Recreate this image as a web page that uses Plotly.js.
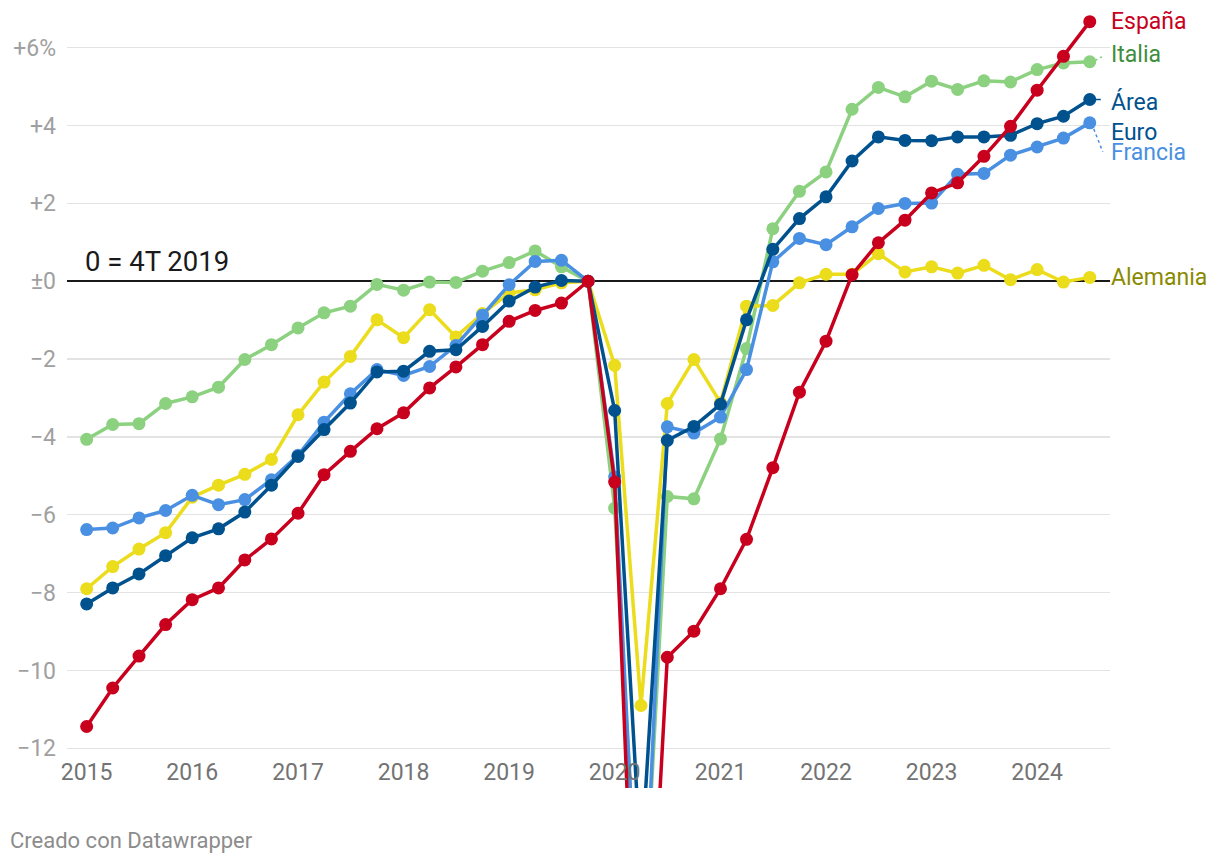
<!DOCTYPE html>
<html>
<head>
<meta charset="utf-8">
<script src="https://cdn.plot.ly/plotly-3.0.1.min.js"></script>
<style>html,body{margin:0;padding:0;background:#fff;}#chart{width:1220px;height:864px;}</style>
</head>
<body>
<div id="chart"></div>
<script>
const quarters = [
  "2015-01-01","2015-04-01","2015-07-01","2015-10-01",
  "2016-01-01","2016-04-01","2016-07-01","2016-10-01",
  "2017-01-01","2017-04-01","2017-07-01","2017-10-01",
  "2018-01-01","2018-04-01","2018-07-01","2018-10-01",
  "2019-01-01","2019-04-01","2019-07-01","2019-10-01",
  "2020-01-01","2020-04-01","2020-07-01","2020-10-01",
  "2021-01-01","2021-04-01","2021-07-01","2021-10-01",
  "2022-01-01","2022-04-01","2022-07-01","2022-10-01",
  "2023-01-01","2023-04-01","2023-07-01","2023-10-01",
  "2024-01-01","2024-04-01","2024-07-01"
];

const espana = [-11.44,-10.45,-9.63,-8.82, -8.18,-7.88,-7.16,-6.62, -5.96,-4.97,-4.37,-3.79,
  -3.38,-2.74,-2.20,-1.63, -1.03,-0.75,-0.56,0, -5.16,-22.0,-9.66,-8.99,
  -7.90,-6.63,-4.79,-2.85, -1.54,0.17,0.99,1.57, 2.27,2.53,3.21,3.98, 4.91,5.78,6.67];

const italia = [-4.06,-3.68,-3.66,-3.14, -2.97,-2.72,-2.01,-1.63, -1.20,-0.81,-0.64,-0.08,
  -0.23,-0.02,-0.03,0.26, 0.48,0.78,0.37,0, -5.83,-18.0,-5.53,-5.59,
  -4.05,-1.73,1.35,2.31, 2.81,4.42,4.98,4.74, 5.14,4.93,5.15,5.12, 5.44,5.61,5.64];

const francia = [-6.38,-6.34,-6.08,-5.89, -5.50,-5.74,-5.61,-5.10, -4.47,-3.62,-2.89,-2.27,
  -2.42,-2.19,-1.65,-0.87, -0.09,0.51,0.54,0, -5.03,-18.5,-3.74,-3.90,
  -3.49,-2.27,0.50,1.10, 0.94,1.40,1.87,2.00, 2.01,2.75,2.77,3.24, 3.45,3.68,4.07];

const areaEuro = [-8.29,-7.88,-7.52,-7.05, -6.59,-6.36,-5.93,-5.24, -4.50,-3.81,-3.13,-2.33,
  -2.31,-1.80,-1.76,-1.16, -0.51,-0.15,0.02,0, -3.32,-15.0,-4.09,-3.73,
  -3.16,-0.99,0.82,1.61, 2.17,3.09,3.71,3.62, 3.61,3.71,3.71,3.75, 4.05,4.24,4.67];

const alemania = [-7.90,-7.33,-6.88,-6.46, -5.55,-5.24,-4.96,-4.58, -3.43,-2.59,-1.93,-0.99,
  -1.45,-0.73,-1.43,-0.83, -0.30,-0.22,-0.04,0, -2.16,-10.9,-3.14,-2.01,
  -3.12,-0.64,-0.62,-0.04, 0.18,0.18,0.71,0.24, 0.37,0.21,0.41,0.04, 0.30,-0.02,0.10];

const yTickVals = [6,4,2,0,-2,-4,-6,-8,-10,-12];
const yTickText = ["+6%","+4","+2","±0","−2","−4","−6","−8","−10","−12"];
const xTickVals = ["2015-01-01","2016-01-01","2017-01-01","2018-01-01","2019-01-01",
  "2020-01-01","2021-01-01","2022-01-01","2023-01-01","2024-01-01"];
const xTickText = ["2015","2016","2017","2018","2019","2020","2021","2022","2023","2024"];

const seriesNames = ["Italia","Alemania","Francia","Área Euro","España"];
const seriesData = [italia, alemania, francia, areaEuro, espana];
const lineColors = ["#8bd17f","#ebdc1c","#4a90e2","#00528f","#c8001e"];
const labelColors = ["#3e8e3e","#8a8a00","#4a90e2","#00528f","#c8001e"];
const labelTexts = ["Italia","Alemania","Francia","Área<br>Euro","España"];
const labelShift = [7, 0, -30, -17, 0];

const traces = seriesNames.map((n,i)=>({
  type:"scatter", mode:"lines+markers", name:n,
  x: quarters, y: seriesData[i],
  line:{color: lineColors[i], width:3.5},
  marker:{color: lineColors[i], size:13},
  cliponaxis:true, hoverinfo:"skip"
}));

const lastX = quarters[quarters.length-1];
const annotations = seriesNames.map((n,i)=>({
  xref:"x", yref:"y", x:lastX, y: seriesData[i][seriesData[i].length-1],
  xanchor:"left", yanchor:"middle", xshift:19, yshift:labelShift[i],
  text: labelTexts[i], showarrow:false, align:"left",
  font:{family:"Roboto", size:23, color: labelColors[i]}
}));
annotations.push({
  xref:"x", yref:"y", x:"2015-01-01", y:0, xanchor:"left", yanchor:"bottom",
  xshift:-4, yshift:1, text:"0 = 4T 2019", showarrow:false,
  font:{family:"Roboto", size:27.5, color:"#1a1a1a"}
});
annotations.push({
  xref:"paper", yref:"paper", x:-0.0565, y:-0.067, xanchor:"left", yanchor:"middle",
  text:"Creado con Datawrapper", showarrow:false,
  font:{family:"Roboto", size:22, color:"#8c8c8c"}
});

const shapes = [
  {type:"line", xref:"x", yref:"y", xsizemode:"pixel", ysizemode:"pixel",
   xanchor:lastX, yanchor:italia[italia.length-1], x0:5, x1:12, y0:1, y1:5,
   line:{color:"#8bd17f", width:1.5, dash:"dot"}},
  {type:"line", xref:"x", yref:"y", xsizemode:"pixel", ysizemode:"pixel",
   xanchor:lastX, yanchor:areaEuro[areaEuro.length-1], x0:6, x1:11, y0:0, y1:0,
   line:{color:"#00528f", width:1.5}},
  {type:"line", xref:"x", yref:"y", xsizemode:"pixel", ysizemode:"pixel",
   xanchor:lastX, yanchor:francia[francia.length-1], x0:4, x1:13, y0:-6, y1:-29,
   line:{color:"#4a90e2", width:1.5, dash:"dot"}}
];

const layout = {
  width:1220, height:864,
  margin:{l:67, r:110, t:10, b:76},
  paper_bgcolor:"#ffffff", plot_bgcolor:"#ffffff",
  showlegend:false,
  font:{family:"Roboto"},
  xaxis:{
    type:"date", range:["2014-10-25","2024-09-09"],
    tickvals:xTickVals, ticktext:xTickText,
    showgrid:false, zeroline:false, showline:false, ticks:"",
    ticklabelposition:"inside", ticklabelstandoff:0, ticklabeloverflow:"allow",
    tickfont:{family:"Roboto", size:23, color:"#737373"}
  },
  yaxis:{
    range:[-13.02, 6.97], tickvals:yTickVals, ticktext:yTickText,
    showgrid:true, gridcolor:"#e3e3e3", gridwidth:1.3,
    zeroline:true, zerolinecolor:"#1a1a1a", zerolinewidth:2,
    showline:false, ticks:"", ticklabelstandoff:10,
    tickfont:{family:"Roboto", size:23, color:"#a0a0a0"}
  },
  annotations: annotations,
  shapes: shapes
};

Plotly.newPlot("chart", traces, layout, {displayModeBar:false, staticPlot:true});
</script>
</body>
</html>
